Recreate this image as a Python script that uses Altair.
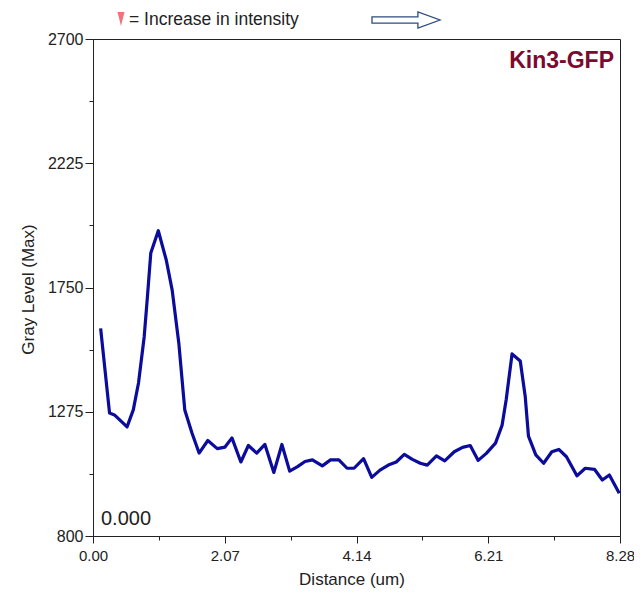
import altair as alt
import pandas as pd

distance_um = [0.120, 0.260, 0.337, 0.535, 0.633, 0.715, 0.804, 0.855, 0.908, 1.026,
               1.151, 1.244, 1.348, 1.442, 1.555, 1.667, 1.804, 1.952, 2.074, 2.183,
               2.323, 2.441, 2.572, 2.701, 2.841, 2.968, 3.090, 3.214, 3.331, 3.447,
               3.603, 3.732, 3.863, 3.992, 4.101, 4.251, 4.380, 4.509, 4.640, 4.765,
               4.891, 5.018, 5.142, 5.251, 5.396, 5.526, 5.676, 5.806, 5.927, 6.052,
               6.180, 6.324, 6.428, 6.491, 6.584, 6.713, 6.791, 6.842, 6.957, 7.080,
               7.209, 7.319, 7.439, 7.603, 7.734, 7.879, 8.002, 8.113, 8.268]
gray_level = [1594, 1270, 1263, 1217, 1282, 1385, 1561, 1714, 1882, 1967,
              1855, 1740, 1538, 1282, 1194, 1117, 1165, 1134, 1140, 1175,
              1083, 1146, 1117, 1150, 1043, 1150, 1048, 1065, 1085, 1091,
              1068, 1091, 1091, 1059, 1059, 1096, 1024, 1052, 1071, 1083,
              1112, 1093, 1078, 1071, 1106, 1087, 1122, 1139, 1146, 1089,
              1116, 1155, 1224, 1320, 1496, 1469, 1333, 1182, 1110, 1078,
              1122, 1131, 1103, 1030, 1059, 1055, 1014, 1033, 963]

x_ticks = [0.0, 1.035, 2.07, 3.105, 4.14, 5.175, 6.21, 7.245, 8.28]
y_ticks = [800, 1037.5, 1275, 1512.5, 1750, 1987.5, 2225, 2462.5, 2700]

df = pd.DataFrame({"d": distance_um, "g": gray_level})

FONT = "Liberation Sans"
W, H = 527, 497

line = alt.Chart(df).mark_line(color="#0b0b9c", strokeWidth=3.2, strokeJoin="round").encode(
    x=alt.X("d:Q", scale=alt.Scale(domain=[0, 8.28], nice=False, zero=False),
            axis=alt.Axis(values=x_ticks, title="Distance (um)",
                          labelExpr="(round(datum.value / 1.035) % 2 == 0) ? format(datum.value, '.2f') : ''",
                          tickSize={"condition": {"test": "round(datum.value / 1.035) % 2 == 0", "value": 7}, "value": 4},
                          grid=False, domainColor="#222", tickColor="#222",
                          labelFlush=False, labelOverlap=False,
                          labelFont=FONT, labelFontSize=15, labelColor="#222", labelPadding=5,
                          titleFont=FONT, titleFontSize=17, titleFontWeight="normal", titleColor="#222",
                          titleX=W / 2 - 5, titleY=48, titleBaseline="alphabetic", titleAlign="center")),
    y=alt.Y("g:Q", scale=alt.Scale(domain=[800, 2700], nice=False, zero=False),
            axis=alt.Axis(values=y_ticks, title="Gray Level (Max)",
                          labelExpr="((datum.value - 800) % 475 == 0) ? format(datum.value, 'd') : ''",
                          tickSize={"condition": {"test": "(datum.value - 800) % 475 == 0", "value": 8}, "value": 4},
                          grid=False, domainColor="#222", tickColor="#222",
                          labelFlush=False, labelOverlap=False,
                          labelFont=FONT, labelFontSize=16, labelColor="#222", labelPadding=2,
                          titleFont=FONT, titleFontSize=17, titleFontWeight="normal", titleColor="#222",
                          titleAngle=-90, titleX=-65, titleY=250, titleAlign="center", titleBaseline="middle")),
)

label_df = pd.DataFrame({"name": ["Kin3-GFP"], "t": ["0.000"]})

kin = alt.Chart(label_df).mark_text(
    align="right", baseline="alphabetic", font=FONT, fontSize=23, fontWeight="bold", color="#7d0a2e"
).encode(text="name:N", x=alt.value(W - 6), y=alt.value(29))

t0 = alt.Chart(label_df).mark_text(
    align="left", baseline="alphabetic", font=FONT, fontSize=20, color="#222"
).encode(text="t:N", x=alt.value(8), y=alt.value(486))

legend_txt = alt.Chart(pd.DataFrame({"s": ["= Increase in intensity"]})).mark_text(
    align="left", baseline="alphabetic", font=FONT, fontSize=17.5, color="#222"
).encode(text="s:N", x=alt.value(36), y=alt.value(-14))

tri = alt.Chart(pd.DataFrame({"s": ["tri"]})).mark_point(
    shape="M -0.5 -1 L 0.5 -1 L 0 1 Z", filled=True, color="#f0737c", size=200, opacity=1
).encode(x=alt.value(28), y=alt.value(-20), detail="s:N")

arrow = alt.Chart(pd.DataFrame({"s": ["arrow"]})).mark_point(
    shape="M -1 -0.09 L 0.35 -0.09 L 0.35 -0.24 L 1 0 L 0.35 0.24 L 0.35 0.09 L -1 0.09 Z",
    filled=False, stroke="#2d4c80", strokeWidth=1.3, fill="white", fillOpacity=1, size=4624, opacity=1
).encode(x=alt.value(313), y=alt.value(-19), detail="s:N")

chart = alt.layer(line, kin, t0, legend_txt, tri, arrow).properties(
    width=W, height=H,
    autosize=alt.AutoSizeParams(type="none"),
    padding={"left": 85, "top": 31, "right": 14, "bottom": 52},
    background="white",
).configure_view(stroke="#222", strokeWidth=1)

chart.save("out.html", embed_options={"renderer": "svg", "actions": False})
